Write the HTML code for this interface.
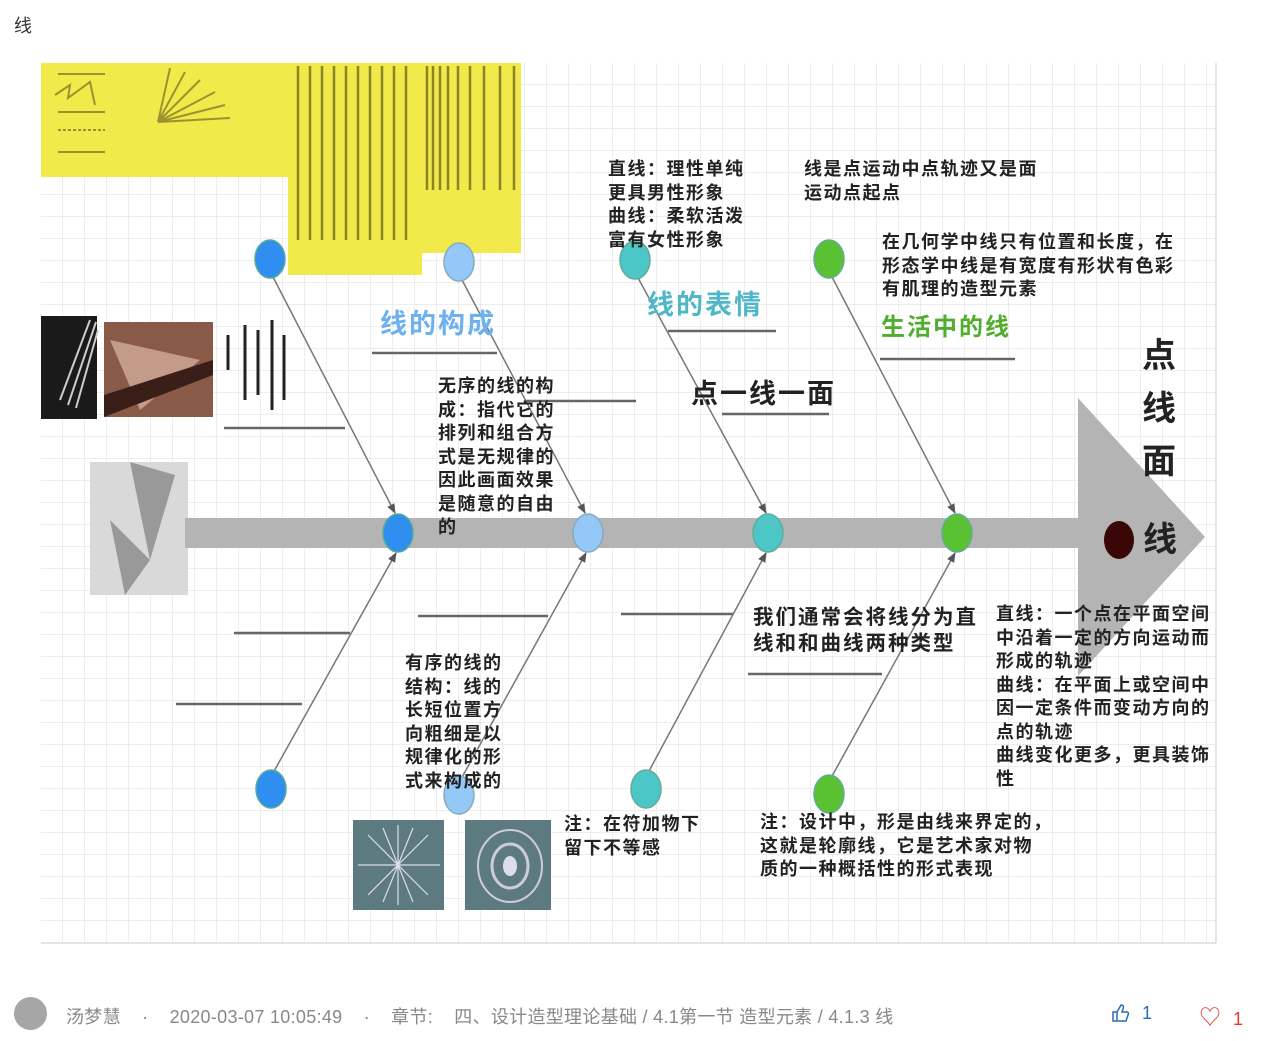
<!DOCTYPE html>
<html><head><meta charset="utf-8"><style>
body{margin:0;width:1267px;height:1041px;background:#fff;font-family:"Liberation Sans","Noto Sans CJK SC",sans-serif;position:relative;overflow:hidden}
.t{position:absolute;font-size:18px;letter-spacing:1.5px;color:#222;line-height:23.5px;font-weight:bold;white-space:nowrap}
</style></head><body>
<div style="position:absolute;left:14px;top:12px;font-size:18px;color:#333">线</div>
<svg width="1267" height="1041" style="position:absolute;left:0;top:0" xmlns="http://www.w3.org/2000/svg">
<defs>
<pattern id="g" width="22" height="22" patternUnits="userSpaceOnUse" x="41" y="63"><path d="M22 0V22H0" fill="none" stroke="#e2e2e2" stroke-width="1.2"/></pattern>
<marker id="a" markerWidth="10" markerHeight="10" refX="9" refY="5" orient="auto" markerUnits="userSpaceOnUse"><path d="M0,1 L10,5 L0,9 Z" fill="#555"/></marker>
</defs>
<rect x="41" y="63" width="1175" height="880" fill="url(#g)"/>
<line x1="41" y1="943" x2="1216" y2="943" stroke="#ccc"/>
<line x1="1216" y1="63" x2="1216" y2="943" stroke="#ccc"/>
<rect x="41" y="63" width="248" height="114" fill="#f2ea4a"/>
<rect x="288" y="63" width="134" height="212" fill="#f2ea4a"/>
<rect x="421" y="63" width="100" height="190" fill="#f2ea4a"/>
<g stroke="#9a9330" stroke-width="2">
<line x1="58" y1="74" x2="105" y2="74"/><line x1="58" y1="112" x2="105" y2="112"/><line x1="58" y1="130" x2="105" y2="130" stroke-dasharray="3 2"/><line x1="58" y1="152" x2="105" y2="152"/>
<polyline points="55,95 70,85 68,98 90,82 95,105" fill="none"/>
<path d="M158 122 L230 118 M158 122 L225 105 M158 122 L215 92 M158 122 L200 80 M158 122 L185 72 M158 122 L170 68" fill="none"/>
</g>
<g stroke="#8a8428" stroke-width="2.5">
<line x1="298" y1="66" x2="298" y2="240"/><line x1="310" y1="66" x2="310" y2="240"/><line x1="322" y1="66" x2="322" y2="240"/><line x1="334" y1="66" x2="334" y2="240"/><line x1="346" y1="66" x2="346" y2="240"/><line x1="358" y1="66" x2="358" y2="240"/><line x1="370" y1="66" x2="370" y2="240"/><line x1="382" y1="66" x2="382" y2="240"/><line x1="394" y1="66" x2="394" y2="240"/><line x1="406" y1="66" x2="406" y2="240"/>
<line x1="427" y1="66" x2="427" y2="190"/><line x1="433" y1="66" x2="433" y2="190"/><line x1="440" y1="66" x2="440" y2="190"/><line x1="448" y1="66" x2="448" y2="190"/><line x1="458" y1="66" x2="458" y2="190"/><line x1="470" y1="66" x2="470" y2="190"/><line x1="484" y1="66" x2="484" y2="190"/><line x1="500" y1="66" x2="500" y2="190"/><line x1="514" y1="66" x2="514" y2="190"/>
</g>
<rect x="41" y="316" width="56" height="103" fill="#1a1a1a"/>
<path d="M60 400 L90 320 M68 405 L96 322 M76 408 L98 330" stroke="#ccc" stroke-width="2"/>
<rect x="104" y="322" width="109" height="95" fill="#8a5a48"/>
<path d="M110 340 L200 360 L140 410 Z" fill="#c49a88"/><path d="M104 395 L213 360 L213 375 L104 417Z" fill="#3a1e18"/>
<g stroke="#222" stroke-width="3"><line x1="228" y1="335" x2="228" y2="370"/><line x1="245" y1="325" x2="245" y2="400"/><line x1="258" y1="330" x2="258" y2="395"/><line x1="272" y1="320" x2="272" y2="410"/><line x1="284" y1="335" x2="284" y2="400"/></g>
<rect x="90" y="462" width="98" height="133" fill="#d9d9d9"/>
<path d="M130 462 L175 475 L150 560Z M110 520 L150 560 L125 595Z" fill="#999"/>
<rect x="353" y="820" width="91" height="90" fill="#5d7a80"/>
<g stroke="#dde" stroke-width="1.2"><path d="M398 825 L398 905 M358 865 L440 865 M368 835 L428 895 M428 835 L368 895 M383 828 L413 902 M413 828 L383 902"/></g>
<rect x="465" y="820" width="86" height="90" fill="#5d7a80"/>
<ellipse cx="510" cy="866" rx="32" ry="36" fill="none" stroke="#ccd" stroke-width="2"/><ellipse cx="510" cy="866" rx="18" ry="22" fill="none" stroke="#ccd" stroke-width="3"/><ellipse cx="510" cy="866" rx="7" ry="10" fill="#dde"/>
<rect x="185" y="518" width="900" height="30" fill="#b4b4b4"/>
<polygon points="1078,398 1205,537 1078,676" fill="#b4b4b4"/>
<g stroke="#666" stroke-width="2.5">
<line x1="372" y1="353" x2="497" y2="353"/><line x1="224" y1="428" x2="345" y2="428"/><line x1="526" y1="401" x2="636" y2="401"/><line x1="668" y1="331" x2="776" y2="331"/><line x1="722" y1="414" x2="829" y2="414"/><line x1="880" y1="359" x2="1015" y2="359"/><line x1="234" y1="633" x2="350" y2="633"/><line x1="176" y1="704" x2="302" y2="704"/><line x1="418" y1="616" x2="548" y2="616"/><line x1="621" y1="614" x2="733" y2="614"/><line x1="748" y1="674" x2="882" y2="674"/>
</g>
<g stroke="#777" stroke-width="1.5" marker-end="url(#a)">
<line x1="272" y1="275" x2="395" y2="513"/><line x1="461" y1="278" x2="585" y2="513"/><line x1="637" y1="276" x2="766" y2="513"/><line x1="831" y1="275" x2="955" y2="513"/>
<line x1="273" y1="773" x2="396" y2="553"/><line x1="461" y1="779" x2="586" y2="553"/><line x1="648" y1="773" x2="766" y2="553"/><line x1="831" y1="778" x2="955" y2="553"/>
</g>
<g stroke-width="1.5">
<ellipse cx="270" cy="259" rx="15" ry="19" fill="#2f8ef0" stroke="#5a9"/>
<ellipse cx="459" cy="262" rx="15" ry="19" fill="#93c8f7" stroke="#8ab"/>
<ellipse cx="635" cy="260" rx="15" ry="19" fill="#4cc6c6" stroke="#6a9"/>
<ellipse cx="829" cy="259" rx="15" ry="19" fill="#5ac232" stroke="#6a9"/>
<ellipse cx="398" cy="533" rx="15" ry="19" fill="#2f8ef0" stroke="#5a9"/>
<ellipse cx="588" cy="533" rx="15" ry="19" fill="#93c8f7" stroke="#8ab"/>
<ellipse cx="768" cy="533" rx="15" ry="19" fill="#4cc6c6" stroke="#6a9"/>
<ellipse cx="957" cy="533" rx="15" ry="19" fill="#5ac232" stroke="#6a9"/>
<ellipse cx="1119" cy="540" rx="15" ry="19" fill="#3a0505"/>
<ellipse cx="271" cy="789" rx="15" ry="19" fill="#2f8ef0" stroke="#5a9"/>
<ellipse cx="459" cy="795" rx="15" ry="19" fill="#93c8f7" stroke="#8ab"/>
<ellipse cx="646" cy="789" rx="15" ry="19" fill="#4cc6c6" stroke="#6a9"/>
<ellipse cx="829" cy="794" rx="15" ry="19" fill="#5ac232" stroke="#6a9"/>
</g>
<path d="M1113 1021 h4 v-9 h-4z M1117 1012 l4 -7 c2 0 3 1 2 4 l-1 3 h5 c1 0 2 1 1 3 l-2 6 h-9" fill="none" stroke="#2a6db5" stroke-width="1.5"/>
</svg>
<div class="t" style="left:380px;top:307px;font-size:27px;letter-spacing:2px;color:#6fb0ee;line-height:34px">线的构成</div>
<div class="t" style="left:647px;top:288px;font-size:27px;letter-spacing:2px;color:#4fb8c8;line-height:34px">线的表情</div>
<div class="t" style="left:881px;top:312px;font-size:24px;letter-spacing:2px;color:#4fae2c;line-height:32px">生活中的线</div>
<div class="t" style="left:691px;top:378px;font-size:27px;letter-spacing:2px;line-height:32px">点一线一面</div>
<div class="t" style="left:1142px;top:330px;font-size:34px;line-height:53px">点<br>线<br>面</div>
<div class="t" style="left:1143px;top:518px;font-size:34px;line-height:44px">线</div>
<div class="t" style="left:608px;top:158px">直线：理性单纯<br>更具男性形象<br>曲线：柔软活泼<br>富有女性形象</div>
<div class="t" style="left:804px;top:158px">线是点运动中点轨迹又是面<br>运动点起点</div>
<div class="t" style="left:882px;top:231px">在几何学中线只有位置和长度，在<br>形态学中线是有宽度有形状有色彩<br>有肌理的造型元素</div>
<div class="t" style="left:438px;top:375px">无序的线的构<br>成：指代它的<br>排列和组合方<br>式是无规律的<br>因此画面效果<br>是随意的自由<br>的</div>
<div class="t" style="left:405px;top:652px">有序的线的<br>结构：线的<br>长短位置方<br>向粗细是以<br>规律化的形<br>式来构成的</div>
<div class="t" style="left:753px;top:605px;font-size:20.5px;letter-spacing:2px;line-height:26px">我们通常会将线分为直<br>线和和曲线两种类型</div>
<div class="t" style="left:996px;top:603px">直线：一个点在平面空间<br>中沿着一定的方向运动而<br>形成的轨迹<br>曲线：在平面上或空间中<br>因一定条件而变动方向的<br>点的轨迹<br>曲线变化更多，更具装饰<br>性</div>
<div class="t" style="left:564px;top:813px">注：在符加物下<br>留下不等感</div>
<div class="t" style="left:760px;top:811px">注：设计中，形是由线来界定的，<br>这就是轮廓线，它是艺术家对物<br>质的一种概括性的形式表现</div>
<div style="position:absolute;left:14px;top:997px;width:33px;height:33px;border-radius:50%;background:#a6a6a6"></div>
<div style="position:absolute;left:66px;top:1003px;font-size:18px;color:#888;white-space:pre;letter-spacing:0.3px">汤梦慧    ·    2020-03-07 10:05:49    ·    章节:    四、设计造型理论基础 / 4.1第一节 造型元素 / 4.1.3 线</div>
<div style="position:absolute;left:1142px;top:1003px;font-size:18px;color:#2a6db5">1</div>
<div style="position:absolute;left:1199px;top:1000px;font-size:22px;color:#e53935">♡<span style="margin-left:12px;font-size:18px">1</span></div>
</body></html>
